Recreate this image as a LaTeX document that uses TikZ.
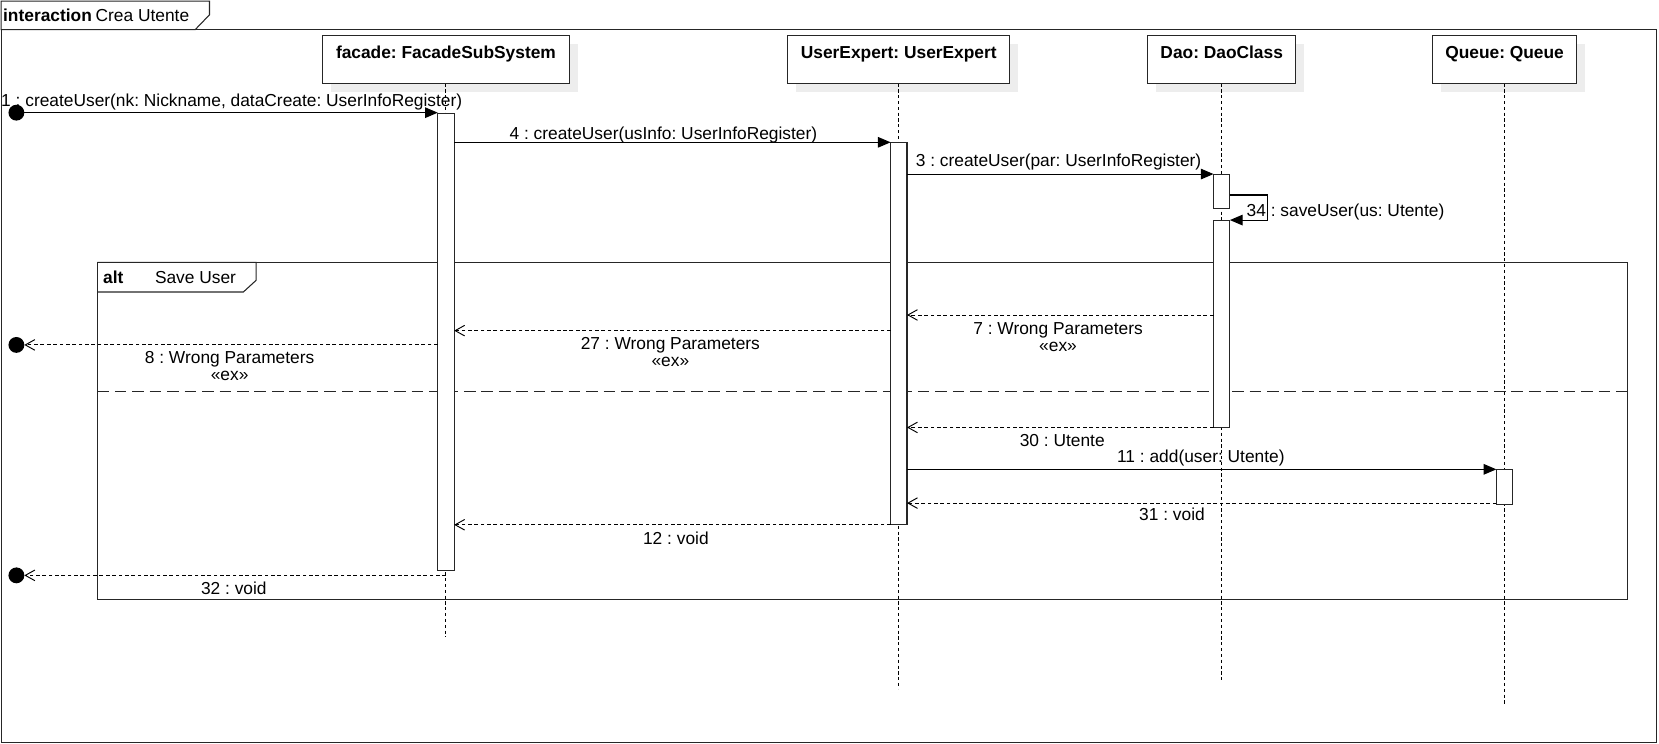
\documentclass[tikz,border=0pt]{standalone}
\usepackage{fontspec}
\setmainfont{Liberation Sans}
\usetikzlibrary{arrows.meta}
\frenchspacing
\begin{document}
\frenchspacing
\begin{tikzpicture}[x=1pt,y=-1pt,line width=1pt,
  every node/.style={inner sep=0pt, outer sep=0pt},
  txt/.style={font=\fontsize{16.4}{16}\selectfont},
  btxt/.style={font=\fontsize{16.4}{16}\selectfont\bfseries},
  headbox/.style={draw=black!85, fill=white, minimum height=45.5pt},
  shadowfill/.style={fill=black!7, draw=none},
  lifeline/.style={dash pattern=on 3pt off 2.5pt, line width=0.9pt},
  actbar/.style={draw=black!85, fill=white, minimum width=15.5pt, anchor=north},
  callmsg/.style={-{Triangle[length=12pt,width=10pt]}},
  retmsg/.style={dash pattern=on 3.5pt off 2.5pt, line width=0.9pt, -{Straight Barb[length=9pt,width=10pt]}},
  fcirc/.style={circle, fill=black, minimum size=15pt},
  frameline/.style={draw=black!85, line width=1pt},
  sepline/.style={draw=black!85, dash pattern=on 11pt off 5.5pt},
]
\useasboundingbox (0,0) rectangle (1568,703);

% outer interaction frame
\draw[frameline] (1,28) rectangle (1566,702);
\draw[frameline, fill=white] (1,1) -- (198,1) -- (198,14) -- (184.5,28) -- (1,28) -- cycle;
\node[btxt, anchor=base west] (ttlk) at (3,20) {interaction};
\node[txt, anchor=base west] (ttlc) at (90.4,20) {Crea Utente};

% alt combined fragment
\draw[frameline] (92,248) rectangle (1538,567);
\draw[frameline] (92,248) -- (242,248) -- (242,265) -- (230,276) -- (92,276);
\node[btxt, anchor=base west] (altk) at (97.5,268.4) {alt};
\node[txt, anchor=base west] (altc) at (146.5,268.4) {Save User};
\draw[sepline] (92,370) -- (1538,370);

% lifeline heads with shadows
\fill[shadowfill] (313,41.5) rectangle (546,87);
\fill[shadowfill] (752.5,41.5) rectangle (962.5,87);
\fill[shadowfill] (1092.7,41.5) rectangle (1232.7,87);
\fill[shadowfill] (1362,41.5) rectangle (1498,87);
\node[headbox, minimum width=233pt] (facade) at (421.5,56.25) {};
\node[headbox, minimum width=210pt] (ue) at (849.5,56.25) {};
\node[headbox, minimum width=140pt] (dao) at (1154.7,56.25) {};
\node[headbox, minimum width=136pt] (queue) at (1422,56.25) {};
\node[btxt, anchor=base] (facadeL) at (421.5,55.5) {facade: FacadeSubSystem};
\node[btxt, anchor=base] (ueL) at (849.5,55.5) {UserExpert: UserExpert};
\node[btxt, anchor=base] (daoL) at (1154.7,55.5) {Dao: DaoClass};
\node[btxt, anchor=base] (queueL) at (1422,55.5) {Queue: Queue};

% lifelines
\coordinate (facadeEnd) at (421.5,602);
\coordinate (ueEnd) at (849.5,651);
\coordinate (daoEnd) at (1154.7,644);
\coordinate (queueEnd) at (1422,665);
\draw[lifeline] (facade.south) -- (facadeEnd);
\draw[lifeline] (ue.south) -- (ueEnd);
\draw[lifeline] (dao.south) -- (daoEnd);
\draw[lifeline] (queue.south) -- (queueEnd);

% activation bars
\node[actbar, minimum height=432pt] (fa) at (421.5,107) {};
\node[actbar, minimum height=361.5pt] (uea) at (849.5,134.5) {};
\node[actbar, minimum height=32.5pt] (daoa1) at (1154.7,164.5) {};
\node[actbar, minimum height=196pt] (daoa2) at (1154.7,208) {};
\node[actbar, minimum height=32.8pt] (qa) at (1422,443.6) {};

% found / lost message ends
\node[fcirc] (c1) at (15.5,106.5) {};
\node[fcirc] (c2) at (15.5,326) {};
\node[fcirc] (c3) at (15.5,543.8) {};

% messages
\draw[callmsg] (c1) -- (fa.west |- c1);
\draw[callmsg] (fa.east |- uea.north) -- (uea.north west);
\draw[callmsg] (uea.east |- daoa1.north) -- (daoa1.north west);
\coordinate (selfR) at (1198,184.3);
\draw[callmsg] (daoa1.east |- selfR) -- (selfR) |- (daoa2.north east);
\coordinate (y7) at (0,297.7);
\draw[retmsg] (daoa2.west |- y7) -- (uea.east |- y7);
\coordinate (y27) at (0,312.5);
\draw[retmsg] (uea.west |- y27) -- (fa.east |- y27);
\draw[retmsg] (fa.west |- c2) -- (c2);
\draw[retmsg] (daoa2.south west) -- (uea.east |- daoa2.south);
\draw[callmsg] (uea.east |- qa.north) -- (qa.north west);
\coordinate (y31) at (0,475.5);
\draw[retmsg] (qa.west |- y31) -- (uea.east |- y31);
\draw[retmsg] (uea.south west) -- (fa.east |- uea.south);
\draw[retmsg] (facade.center |- c3) -- (c3);

% message labels
\node[txt, anchor=base] (l1) at (219,100.5) {1 : createUser(nk: Nickname, dataCreate: UserInfoRegister)};
\node[txt, anchor=base] (l4) at (627,131.5) {4 : createUser(usInfo: UserInfoRegister)};
\node[txt, anchor=base] (l3) at (1000.5,157.5) {3 : createUser(par: UserInfoRegister)};
\node[txt, anchor=base west] (l34) at (1178.3,205) {34 : saveUser(us: Utente)};
\node[txt, anchor=base] (l7a) at (1000,316) {7 : Wrong Parameters};
\node[txt, anchor=base] (l7b) at (1000,332) {«ex»};
\node[txt, anchor=base] (l27a) at (633.6,330.5) {27 : Wrong Parameters};
\node[txt, anchor=base] (l27b) at (633.6,346.5) {«ex»};
\node[txt, anchor=base] (l8a) at (217,344) {8 : Wrong Parameters};
\node[txt, anchor=base] (l8b) at (217,360) {«ex»};
\node[txt, anchor=base] (l30) at (1004,422) {30 : Utente};
\node[txt, anchor=base] (l11) at (1135,437) {11 : add(user: Utente)};
\node[txt, anchor=base] (l31) at (1107.7,492) {31 : void};
\node[txt, anchor=base] (l12) at (638.8,515) {12 : void};
\node[txt, anchor=base] (l32) at (221,562) {32 : void};
\end{tikzpicture}
\end{document}
